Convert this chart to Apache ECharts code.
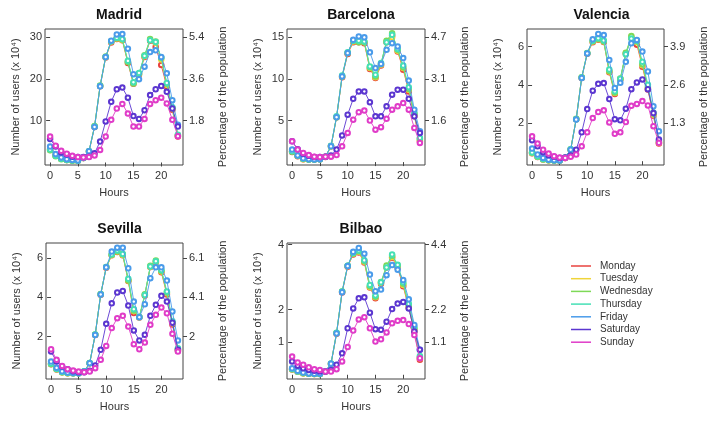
<!DOCTYPE html>
<html>
<head>
<meta charset="utf-8">
<script src="https://cdn.jsdelivr.net/npm/echarts@6/dist/echarts.min.js"></script>
<style>
  html, body { margin: 0; padding: 0; background: #fff; }
  #chart { width: 710px; height: 435px; }
</style>
</head>
<body>
<div id="chart"></div>
<script>
// hours of the day and the week days
const hours = [0, 1, 2, 3, 4, 5, 6, 7, 8, 9, 10, 11, 12, 13, 14, 15, 16, 17, 18, 19, 20, 21, 22, 23];
const days = ["Monday", "Tuesday", "Wednesday", "Thursday", "Friday", "Saturday", "Sunday"];
const cities = ["Madrid", "Barcelona", "Valencia", "Sevilla", "Bilbao"];
const hourTicks = [0, 5, 10, 15, 20];

// number of users (x 10^4) per hour
const madridMon = [3.2, 1.7, 0.9, 0.6, 0.5, 0.4, 1.1, 2.6, 8.5, 18.2, 25.1, 28.7, 29.5, 29.2, 23.8, 18.8, 21.0, 25.2, 29.1, 27.6, 23.3, 18.2, 12.6, 6.2];
const madridTue = [3.0, 1.6, 0.9, 0.6, 0.5, 0.4, 1.1, 2.6, 8.6, 18.3, 25.2, 28.9, 29.6, 29.3, 24.1, 19.0, 21.2, 25.4, 29.3, 28.6, 24.6, 18.6, 12.9, 6.4];
const madridWed = [2.9, 1.5, 0.8, 0.6, 0.4, 0.4, 1.1, 2.7, 8.7, 18.4, 25.3, 29.0, 29.7, 29.4, 24.0, 18.9, 21.2, 25.6, 29.5, 28.9, 25.0, 18.8, 13.1, 6.5];
const madridThu = [3.1, 1.6, 0.9, 0.6, 0.5, 0.4, 1.2, 2.7, 8.6, 18.3, 25.2, 29.0, 29.8, 29.5, 24.3, 19.2, 21.4, 25.5, 29.2, 28.8, 25.1, 19.0, 13.2, 6.6];
const madridFri = [3.8, 2.0, 1.2, 0.8, 0.6, 0.5, 1.1, 2.7, 8.5, 18.2, 25.2, 29.1, 30.6, 30.7, 27.2, 21.1, 19.9, 22.9, 26.4, 26.8, 25.2, 21.3, 14.9, 9.0];
const madridSat = [5.6, 3.8, 2.4, 1.9, 1.4, 1.3, 1.3, 1.4, 2.2, 5.0, 9.8, 14.5, 17.5, 17.9, 15.5, 11.1, 10.4, 12.5, 16.1, 17.5, 18.3, 16.9, 12.9, 8.6];
const madridSun = [6.2, 4.0, 2.8, 2.1, 1.6, 1.3, 1.2, 1.3, 1.7, 3.0, 6.2, 10.2, 12.9, 14.0, 11.7, 8.6, 8.6, 10.4, 14.0, 14.9, 15.5, 14.1, 10.2, 6.3];

const barcelonaMon = [1.2, 0.7, 0.35, 0.3, 0.3, 0.35, 0.6, 1.9, 5.4, 10.2, 13.0, 14.4, 14.4, 14.3, 11.2, 10.1, 11.6, 14.4, 15.2, 13.3, 11.1, 8.5, 5.5, 2.5];
const barcelonaTue = [1.3, 0.75, 0.35, 0.3, 0.3, 0.35, 0.65, 1.9, 5.4, 10.3, 13.1, 14.5, 14.5, 14.4, 11.3, 10.2, 11.7, 14.5, 15.0, 13.4, 11.3, 8.7, 5.7, 2.7];
const barcelonaWed = [1.27, 0.75, 0.4, 0.3, 0.3, 0.35, 0.65, 1.9, 5.4, 10.3, 13.1, 14.6, 14.4, 14.4, 11.4, 10.3, 11.8, 14.6, 15.5, 13.5, 11.4, 8.8, 5.8, 2.8];
const barcelonaThu = [1.3, 0.8, 0.4, 0.3, 0.3, 0.35, 0.65, 1.95, 5.5, 10.4, 13.2, 14.6, 14.6, 14.5, 11.5, 10.5, 11.9, 14.4, 15.3, 13.6, 11.6, 9.0, 5.9, 2.9];
const barcelonaFri = [1.5, 0.8, 0.45, 0.35, 0.3, 0.35, 0.65, 1.9, 5.4, 10.3, 13.1, 14.7, 15.1, 15.0, 13.2, 11.3, 11.8, 13.5, 14.3, 13.9, 12.5, 9.8, 6.3, 3.7];
const barcelonaSat = [2.5, 1.55, 1.0, 0.75, 0.6, 0.6, 0.65, 0.8, 1.5, 3.2, 5.7, 7.6, 8.5, 8.5, 7.2, 5.5, 5.5, 6.7, 8.1, 8.7, 8.7, 7.6, 5.5, 3.5];
const barcelonaSun = [2.5, 1.5, 1.1, 0.85, 0.65, 0.6, 0.65, 0.65, 0.85, 1.9, 3.5, 5.1, 6.0, 6.2, 5.0, 3.9, 4.2, 5.2, 6.3, 6.7, 7.1, 6.3, 4.1, 2.3];

const valenciaMon = [0.42, 0.22, 0.09, 0.05, 0.03, 0.03, 0.17, 0.6, 2.2, 4.35, 5.62, 6.22, 6.36, 6.24, 4.65, 3.52, 4.28, 5.62, 6.45, 6.1, 4.95, 3.75, 2.38, 0.93];
const valenciaTue = [0.43, 0.23, 0.09, 0.05, 0.03, 0.03, 0.17, 0.6, 2.2, 4.38, 5.65, 6.26, 6.38, 6.26, 4.7, 3.57, 4.3, 5.65, 6.5, 6.22, 5.02, 3.82, 2.43, 0.96];
const valenciaWed = [0.45, 0.24, 0.1, 0.05, 0.03, 0.03, 0.18, 0.62, 2.22, 4.4, 5.66, 6.28, 6.4, 6.28, 4.72, 3.6, 4.33, 5.68, 6.55, 6.28, 5.08, 3.88, 2.48, 1.0];
const valenciaThu = [0.46, 0.25, 0.1, 0.06, 0.04, 0.03, 0.18, 0.62, 2.2, 4.38, 5.65, 6.3, 6.44, 6.32, 4.8, 3.66, 4.32, 5.6, 6.42, 6.3, 5.2, 4.0, 2.55, 1.05];
const valenciaFri = [0.66, 0.35, 0.17, 0.08, 0.05, 0.04, 0.18, 0.6, 2.18, 4.36, 5.64, 6.38, 6.66, 6.6, 5.3, 3.83, 4.1, 5.2, 6.17, 6.35, 5.74, 4.7, 2.87, 1.57];
const valenciaSat = [1.1, 0.78, 0.47, 0.31, 0.23, 0.16, 0.19, 0.3, 0.6, 1.51, 2.73, 3.69, 4.05, 4.09, 3.25, 2.2, 2.14, 2.75, 3.77, 4.12, 4.28, 3.77, 2.52, 1.13];
const valenciaSun = [1.3, 0.92, 0.6, 0.4, 0.26, 0.19, 0.17, 0.23, 0.35, 0.78, 1.51, 2.26, 2.57, 2.66, 2.03, 1.43, 1.51, 2.05, 2.9, 3.0, 3.15, 2.92, 1.83, 0.96];

const sevillaMon = [0.58, 0.32, 0.17, 0.13, 0.12, 0.12, 0.2, 0.63, 2.08, 4.14, 5.52, 6.15, 6.32, 6.15, 4.84, 3.2, 2.97, 4.1, 5.55, 5.8, 5.28, 4.15, 2.62, 1.27];
const sevillaTue = [0.6, 0.33, 0.18, 0.13, 0.13, 0.13, 0.21, 0.64, 2.09, 4.16, 5.54, 6.17, 6.34, 6.17, 4.86, 3.3, 2.99, 4.13, 5.57, 5.83, 5.32, 4.21, 2.68, 1.32];
const sevillaWed = [0.6, 0.34, 0.18, 0.14, 0.13, 0.13, 0.21, 0.65, 2.1, 4.17, 5.55, 6.18, 6.36, 6.2, 4.88, 3.33, 3.0, 4.16, 5.62, 5.88, 5.36, 4.25, 2.72, 1.36];
const sevillaThu = [0.62, 0.34, 0.19, 0.14, 0.13, 0.13, 0.22, 0.65, 2.1, 4.16, 5.55, 6.2, 6.4, 6.22, 4.95, 3.4, 3.0, 4.12, 5.58, 5.85, 5.4, 4.3, 2.78, 1.4];
const sevillaFri = [0.72, 0.4, 0.22, 0.16, 0.14, 0.13, 0.21, 0.64, 2.08, 4.15, 5.54, 6.34, 6.54, 6.54, 5.49, 3.79, 2.99, 3.65, 4.98, 5.54, 5.54, 4.86, 3.28, 1.8];
const sevillaSat = [1.23, 0.72, 0.47, 0.33, 0.23, 0.18, 0.18, 0.25, 0.52, 1.32, 2.65, 3.7, 4.25, 4.33, 3.58, 2.31, 1.8, 2.09, 3.06, 3.62, 4.08, 3.79, 2.71, 1.32];
const sevillaSun = [1.35, 0.81, 0.5, 0.33, 0.26, 0.21, 0.18, 0.21, 0.38, 0.81, 1.52, 2.43, 2.94, 3.06, 2.51, 1.61, 1.35, 1.69, 2.6, 3.11, 3.48, 3.19, 2.14, 1.23];

const bilbaoMon = [0.16, 0.09, 0.05, 0.03, 0.02, 0.02, 0.1, 0.33, 1.26, 2.53, 3.32, 3.7, 3.76, 3.45, 2.68, 2.35, 2.8, 3.3, 3.6, 3.28, 2.72, 2.05, 1.33, 0.46];
const bilbaoTue = [0.17, 0.1, 0.05, 0.03, 0.02, 0.02, 0.1, 0.34, 1.28, 2.55, 3.34, 3.72, 3.78, 3.47, 2.7, 2.38, 2.83, 3.32, 3.62, 3.32, 2.76, 2.09, 1.38, 0.51];
const bilbaoWed = [0.17, 0.1, 0.05, 0.03, 0.02, 0.02, 0.1, 0.34, 1.28, 2.56, 3.35, 3.73, 3.8, 3.5, 2.72, 2.4, 2.85, 3.36, 3.66, 3.36, 2.8, 2.12, 1.42, 0.54];
const bilbaoThu = [0.18, 0.1, 0.06, 0.04, 0.03, 0.02, 0.11, 0.35, 1.29, 2.56, 3.35, 3.74, 3.82, 3.52, 2.76, 2.44, 2.84, 3.3, 3.7, 3.38, 2.84, 2.18, 1.46, 0.58];
const bilbaoFri = [0.2, 0.12, 0.07, 0.04, 0.03, 0.03, 0.1, 0.34, 1.27, 2.54, 3.34, 3.78, 3.9, 3.72, 3.08, 2.57, 2.62, 3.06, 3.37, 3.23, 2.91, 2.32, 1.53, 0.77];
const bilbaoSat = [0.41, 0.28, 0.2, 0.15, 0.12, 0.1, 0.1, 0.15, 0.31, 0.66, 1.43, 2.04, 2.35, 2.38, 1.91, 1.4, 1.38, 1.63, 2.02, 2.19, 2.24, 2.04, 1.33, 0.77];
const bilbaoSun = [0.56, 0.38, 0.31, 0.23, 0.17, 0.15, 0.1, 0.1, 0.17, 0.41, 0.85, 1.36, 1.7, 1.77, 1.43, 1.02, 1.09, 1.3, 1.58, 1.66, 1.68, 1.56, 1.22, 0.51];

// left ticks and the matching right-hand percentage labels
const madridTicks = [10, 20, 30];
const madridPct = ["1.8", "3.6", "5.4"];
const barcelonaTicks = [5, 10, 15];
const barcelonaPct = ["1.6", "3.1", "4.7"];
const valenciaTicks = [2, 4, 6];
const valenciaPct = ["1.3", "2.6", "3.9"];
const sevillaTicks = [2, 4, 6];
const sevillaPct = ["2", "4.1", "6.1"];
const bilbaoTicks = [1, 2, 4];
const bilbaoPct = ["1.1", "2.2", "4.4"];

const cityData = [
  [madridMon, madridTue, madridWed, madridThu, madridFri, madridSat, madridSun],
  [barcelonaMon, barcelonaTue, barcelonaWed, barcelonaThu, barcelonaFri, barcelonaSat, barcelonaSun],
  [valenciaMon, valenciaTue, valenciaWed, valenciaThu, valenciaFri, valenciaSat, valenciaSun],
  [sevillaMon, sevillaTue, sevillaWed, sevillaThu, sevillaFri, sevillaSat, sevillaSun],
  [bilbaoMon, bilbaoTue, bilbaoWed, bilbaoThu, bilbaoFri, bilbaoSat, bilbaoSun]
];
const cityTicks = [madridTicks, barcelonaTicks, valenciaTicks, sevillaTicks, bilbaoTicks];
const cityPct = [madridPct, barcelonaPct, valenciaPct, sevillaPct, bilbaoPct];

// layout of the panels (plot boxes in px) and y ranges
const panels = [
  { x: 45, y: 29, w: 138, h: 136, ymin: -0.6, ymax: 31.9 },
  { x: 287, y: 29, w: 138, h: 136, ymin: -0.35, ymax: 16.0 },
  { x: 527, y: 29, w: 139, h: 136, ymin: -0.2, ymax: 6.92 },
  { x: 46, y: 243, w: 137, h: 136, ymin: -0.17, ymax: 6.78 },
  { x: 287, y: 243, w: 138, h: 136, ymin: -0.13, ymax: 4.05 }
];
const dayColors = ["#E8433F", "#EFD43A", "#7ED957", "#45E0B5", "#4A9BEA", "#5B36D0", "#E03CC8"];

const FONT = "'Liberation Sans', Arial, sans-serif";
const AXIS_COLOR = "#444";
const TEXT_COLOR = "#333";

let myChart = echarts.init(document.getElementById("chart"), null, { renderer: "canvas" });

const grid = [], xAxis = [], yAxis = [], series = [], title = [];

panels.forEach((p, i) => {
  grid.push({
    left: p.x, top: p.y, width: p.w, height: p.h,
    show: true, borderColor: AXIS_COLOR, borderWidth: 1, backgroundColor: "transparent"
  });
  title.push({
    text: cities[i],
    left: p.x + p.w / 2,
    top: p.y - 26,
    textAlign: "center",
    textStyle: { fontFamily: FONT, fontSize: 14, fontWeight: "bold", color: "#111" }
  });
  xAxis.push({
    type: "value",
    gridIndex: i,
    min: -0.92,
    max: 23.92,
    axisLine: { show: false },
    splitLine: { show: false },
    axisTick: { show: true, customValues: hourTicks, length: 4, lineStyle: { color: AXIS_COLOR } },
    axisLabel: { customValues: hourTicks, fontFamily: FONT, fontSize: 11, color: TEXT_COLOR, margin: 5 },
    name: "Hours",
    nameLocation: "middle",
    nameGap: 22,
    nameTextStyle: { fontFamily: FONT, fontSize: 11, color: TEXT_COLOR }
  });
  const ticks = cityTicks[i];
  const pct = cityPct[i];
  yAxis.push({
    type: "value",
    gridIndex: i,
    position: "left",
    min: p.ymin,
    max: p.ymax,
    axisLine: { show: false },
    splitLine: { show: false },
    axisTick: { show: true, customValues: ticks, length: 4, lineStyle: { color: AXIS_COLOR } },
    axisLabel: { customValues: ticks, fontFamily: FONT, fontSize: 11, color: TEXT_COLOR, margin: 3 },
    name: "Number of users (x 10\u2074)",
    nameLocation: "middle",
    nameRotate: 90,
    nameGap: 24,
    nameTextStyle: { fontFamily: FONT, fontSize: 11, color: TEXT_COLOR }
  });
  yAxis.push({
    type: "value",
    gridIndex: i,
    position: "right",
    min: p.ymin,
    max: p.ymax,
    axisLine: { show: false },
    splitLine: { show: false },
    axisTick: { show: true, customValues: ticks, length: 4, lineStyle: { color: AXIS_COLOR } },
    axisLabel: {
      customValues: ticks,
      formatter: (v) => pct[ticks.indexOf(v)],
      fontFamily: FONT, fontSize: 11, color: TEXT_COLOR, margin: 6
    },
    name: "Percentage of the population",
    nameLocation: "middle",
    nameRotate: 90,
    nameGap: 34,
    nameTextStyle: { fontFamily: FONT, fontSize: 11, color: TEXT_COLOR }
  });
  days.forEach((d, k) => {
    series.push({
      name: d,
      type: "line",
      xAxisIndex: i,
      yAxisIndex: i * 2,
      symbol: "emptyCircle",
      symbolSize: 4.5,
      z: 2 + k,
      lineStyle: { width: 1, color: dayColors[k], opacity: 0.9 },
      itemStyle: { color: dayColors[k], borderWidth: 0.7 },
      data: hours.map((h, j) => [h, cityData[i][k][j]])
    });
  });
});

myChart.setOption({
  animation: false,
  title: title,
  grid: grid,
  xAxis: xAxis,
  yAxis: yAxis,
  legend: {
    data: days,
    orient: "vertical",
    left: 566,
    top: 255,
    icon: "rect",
    itemWidth: 20,
    itemHeight: 1.5,
    itemGap: 0.7,
    textStyle: { fontFamily: FONT, fontSize: 10, lineHeight: 12, color: TEXT_COLOR, padding: [0, 0, 0, 4] }
  },
  series: series
});
</script>
</body>
</html>
